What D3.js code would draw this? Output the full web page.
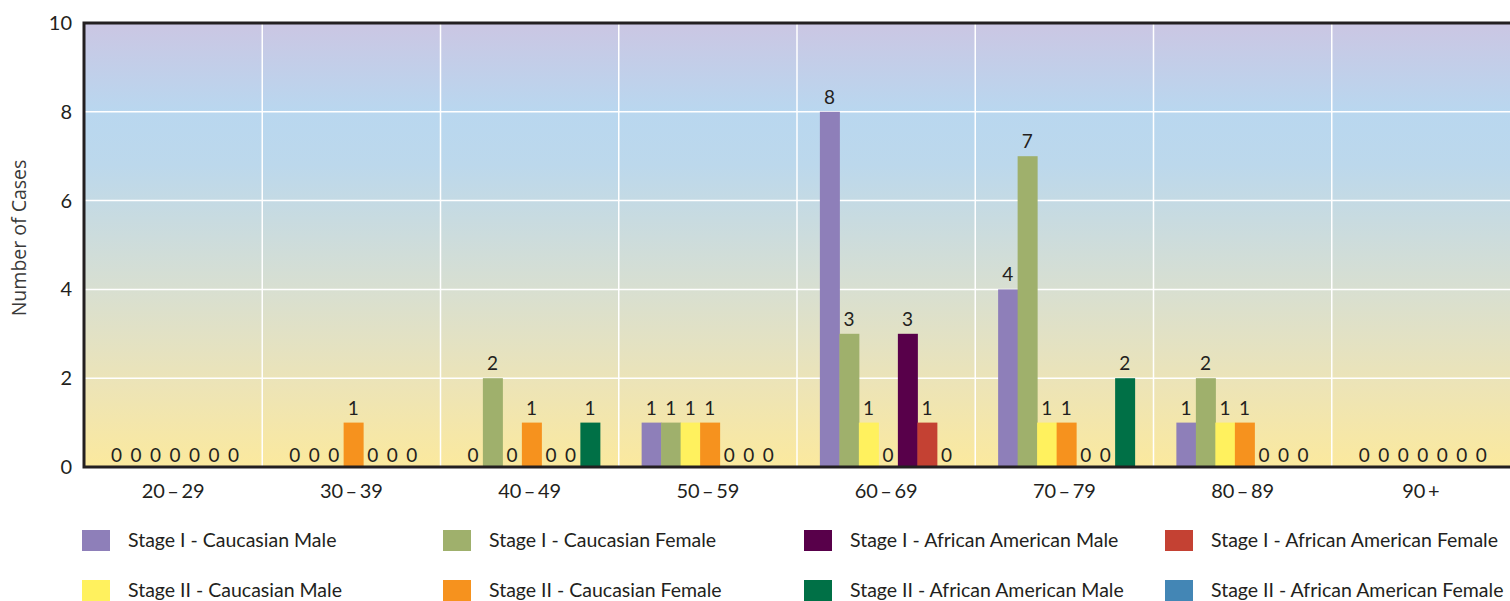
<!DOCTYPE html>
<html>
<head>
<meta charset="utf-8">
<script src="https://cdn.jsdelivr.net/npm/d3@7"></script>
<style>
  body { margin: 0; background: #fff; }
  svg { display: block; }
  text { font-family: Lato, "Open Sans", sans-serif; fill: #231f20; }
</style>
</head>
<body>
<div id="chart-area"></div>
<script>
// age groups
var categories = ["20\u2009\u2013\u200929", "30\u2009\u2013\u200939", "40\u2009\u2013\u200949", "50\u2009\u2013\u200959", "60\u2009\u2013\u200969", "70\u2009\u2013\u200979", "80\u2009\u2013\u200989", "90\u2009+"];

// series names, in legend order
var seriesNames = [
  "Stage I - Caucasian Male",
  "Stage I - Caucasian Female",
  "Stage I - African American Male",
  "Stage I - African American Female",
  "Stage II - Caucasian Male",
  "Stage II - Caucasian Female",
  "Stage II - African American Male",
  "Stage II - African American Female"
];
var seriesColors = ["#8e7fb9", "#9fb06c", "#58004a", "#c44133", "#fff15e", "#f6921e", "#007046", "#4386b5"];

// values per age group
var stage1CaucMale   = [0, 0, 0, 1, 8, 4, 1, 0];
var stage1CaucFemale = [0, 0, 2, 1, 3, 7, 2, 0];
var stage2CaucMale   = [0, 0, 0, 1, 1, 1, 1, 0];
var stage2CaucFemale = [0, 1, 1, 1, 0, 1, 1, 0];
var stage1AAMale     = [0, 0, 0, 0, 3, 0, 0, 0];
var stage1AAFemale   = [0, 0, 0, 0, 1, 0, 0, 0];
var stage2AAMale     = [0, 0, 1, 0, 0, 2, 0, 0];

// order the bars appear inside each group (index into seriesNames)
var barOrder = [0, 1, 4, 5, 2, 3, 6];
var barValues = [stage1CaucMale, stage1CaucFemale, stage2CaucMale, stage2CaucFemale, stage1AAMale, stage1AAFemale, stage2AAMale];

var yTicks = [0, 2, 4, 6, 8, 10];

var W = 1510, H = 601;
var margin = { left: 84, right: 0, top: 23, bottom: 134 };
var width = W - margin.left - margin.right;
var height = H - margin.top - margin.bottom;

var svg = d3.select("#chart-area")
  .append("svg")
  .attr("width", W)
  .attr("height", H);

var defs = svg.append("defs");
var grad = defs.append("linearGradient")
  .attr("id", "bg")
  .attr("x1", 0).attr("y1", 0).attr("x2", 0).attr("y2", 1);
[["0%", "#cbc6e3"], ["20%", "#b9d7ef"], ["32%", "#bcd8ec"], ["60%", "#d8dfd1"], ["82%", "#ede4b6"], ["100%", "#fbe99e"]]
  .forEach(function (s) {
    grad.append("stop").attr("offset", s[0]).attr("stop-color", s[1]);
  });

var g = svg.append("g").attr("transform", "translate(" + margin.left + "," + margin.top + ")");

var x = d3.scaleBand().domain(categories).range([0, width]);
var y = d3.scaleLinear().domain([0, 10]).range([height, 0]);

var slotW = 19.5;
var xInner = d3.scaleBand()
  .domain(d3.range(barOrder.length))
  .range([(x.bandwidth() - slotW * barOrder.length) / 2 + 2, (x.bandwidth() + slotW * barOrder.length) / 2 + 2]);

g.append("rect")
  .attr("width", width)
  .attr("height", height)
  .attr("fill", "url(#bg)");

// grid
g.selectAll(".hgrid")
  .data(yTicks.filter(function (d) { return d > 0 && d < 10; }))
  .enter().append("line")
  .attr("x1", 0).attr("x2", width)
  .attr("y1", function (d) { return y(d); })
  .attr("y2", function (d) { return y(d); })
  .attr("stroke", "#fff").attr("stroke-width", 1.5);

g.selectAll(".vgrid")
  .data(categories.slice(1))
  .enter().append("line")
  .attr("x1", function (d) { return x(d); })
  .attr("x2", function (d) { return x(d); })
  .attr("y1", 0).attr("y2", height)
  .attr("stroke", "#fff").attr("stroke-width", 1.5);

// bars
var groups = g.selectAll(".grp")
  .data(categories)
  .enter().append("g")
  .attr("transform", function (d) { return "translate(" + x(d) + ",0)"; });

groups.each(function (cat, ci) {
  var grp = d3.select(this);
  var rows = barValues.map(function (vals, bi) {
    return { i: bi, v: vals[ci], color: seriesColors[barOrder[bi]] };
  });
  grp.selectAll("rect")
    .data(rows.filter(function (r) { return r.v > 0; }))
    .enter().append("rect")
    .attr("x", function (r) { return xInner(r.i); })
    .attr("width", xInner.bandwidth() + 0.5)
    .attr("y", function (r) { return y(r.v); })
    .attr("height", function (r) { return height - y(r.v); })
    .attr("fill", function (r) { return r.color; });
  grp.selectAll("text")
    .data(rows)
    .enter().append("text")
    .attr("x", function (r) { return xInner(r.i) + xInner.bandwidth() / 2; })
    .attr("y", function (r) { return r.v > 0 ? y(r.v) - 8 : height - 5; })
    .attr("text-anchor", "middle")
    .attr("font-size", "19px")
    .text(function (r) { return r.v; });
});

// frame
g.append("path")
  .attr("d", "M" + width + ",0H0V" + height + "H" + width)
  .attr("fill", "none")
  .attr("stroke", "#231f20")
  .attr("stroke-width", 3);

// y tick labels
g.selectAll(".ylab")
  .data(yTicks)
  .enter().append("text")
  .attr("x", -12)
  .attr("y", function (d) { return y(d); })
  .attr("dy", "0.35em")
  .attr("text-anchor", "end")
  .attr("font-size", "20px")
  .text(function (d) { return d; });

// x tick labels
g.selectAll(".xlab")
  .data(categories)
  .enter().append("text")
  .attr("x", function (d) { return x(d) + x.bandwidth() / 2; })
  .attr("y", height + 31)
  .attr("text-anchor", "middle")
  .attr("font-size", "20px")
  .text(function (d) { return d; });

svg.append("text")
  .attr("transform", "translate(26," + (margin.top + 215) + ") rotate(-90)")
  .attr("text-anchor", "middle")
  .attr("font-size", "19.5px")
  .style("font-family", "'Open Sans', sans-serif")
  .style("fill", "#3a3a3a")
  .text("Number of Cases");

// legend
var legend = svg.selectAll(".leg")
  .data(seriesNames)
  .enter().append("g")
  .attr("transform", function (d, i) {
    return "translate(" + (82 + (i % 4) * 361) + "," + (530 + Math.floor(i / 4) * 50) + ")";
  });
legend.append("rect")
  .attr("width", 28).attr("height", 21)
  .attr("fill", function (d, i) { return seriesColors[i]; });
legend.append("text")
  .attr("x", 46).attr("y", 17)
  .attr("font-size", "19.5px")
  .text(function (d) { return d; });
</script>
</body>
</html>
